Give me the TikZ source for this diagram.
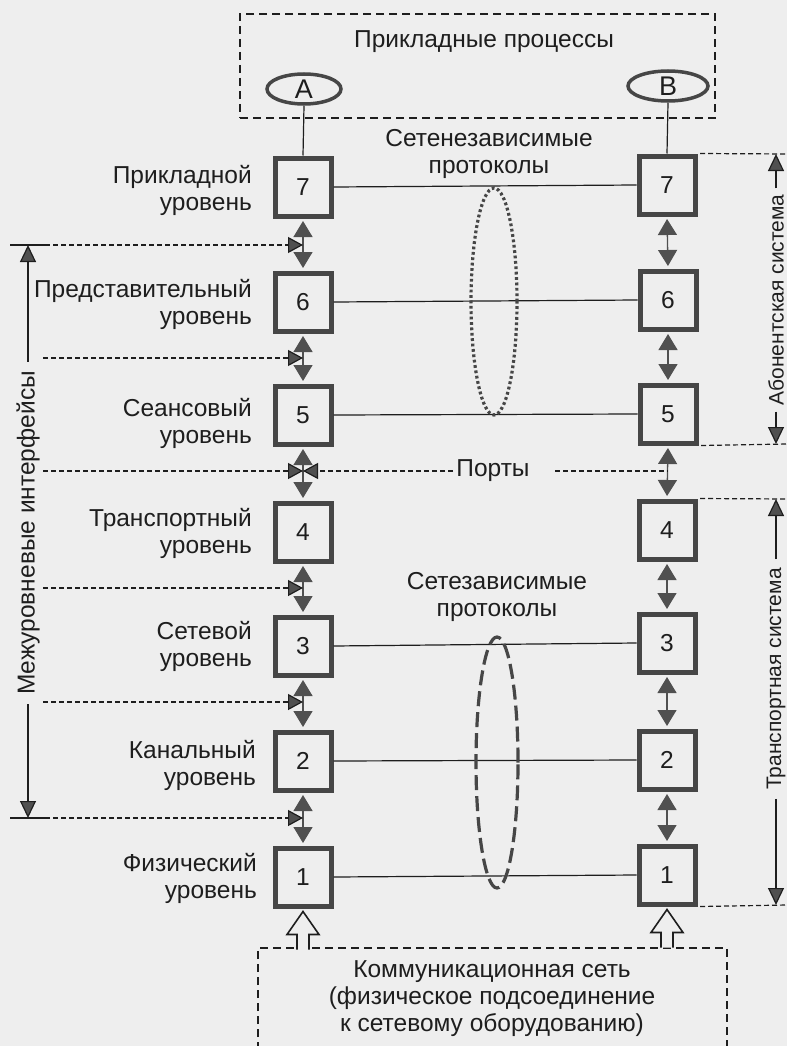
\documentclass[tikz,border=0pt]{standalone}
\usepackage{fontspec}
\setmainfont{Liberation Sans}
\usetikzlibrary{arrows.meta,shapes.geometric,calc}
\definecolor{bg}{RGB}{238,238,238}
\definecolor{ink}{RGB}{30,30,30}
\definecolor{boxc}{RGB}{70,70,70}
\definecolor{tipc}{RGB}{80,80,80}
\newcommand\fsz{\fontsize{24.5}{27}\selectfont}
\newcommand\fsp{\fontsize{27}{30}\selectfont}
\newcommand\fsr{\fontsize{21}{25}\selectfont}
\begin{document}
\begin{tikzpicture}[x=1pt,y=-1pt,
  lvl/.style={draw=boxc, line width=5pt, minimum width=56pt, minimum height=58pt, inner sep=0pt, font=\fsz, text=ink},
  lab/.style={align=right, anchor=east, font=\fsz, text=ink, inner sep=0pt},
  txt/.style={align=center, font=\fsz, text=ink, inner sep=0pt},
  proc/.style={ellipse, draw=boxc, line width=3.5pt, inner sep=0pt, font=\fsp, text=ink},
  thinln/.style={draw=ink, line width=1.2pt},
  dbl/.style={draw=tipc, line width=1.3pt, arrows={Triangle[width=19pt,length=16pt]-Triangle[width=19pt,length=16pt]}, shorten <=2.5pt, shorten >=2.5pt},
  iface/.style={draw=ink, line width=1.2pt, dash pattern=on 5pt off 3pt},
  ifacetip/.style={iface, arrows={-Triangle[width=16pt,length=15pt,fill=tipc]}},
  sidetip/.style={draw=ink, line width=1.2pt, arrows={-Triangle[width=16pt,length=17pt,fill=tipc]}},
  dboxst/.style={draw=ink, line width=1.8pt, dash pattern=on 8pt off 5pt},
  hollow/.style={draw=ink, line width=1.6pt, fill=bg, line join=miter}
]
\fill[bg] (0,0) rectangle (787,1046);
\useasboundingbox (0,0) rectangle (787,1046);

% application processes box
\node[dboxst, minimum width=475pt, minimum height=104pt, inner sep=0pt] (apbox) at (477.5,66) {};
\node[txt] (aptxt) at (484,42) {Прикладные процессы};
\node[proc, minimum width=74pt, minimum height=30pt] (A) at (304,89) {A};
\node[proc, minimum width=80pt, minimum height=30pt] (B) at (668,86) {B};

% left stack
\node[lvl] (L7) at (303,187) {7};
\node[lvl] (L6) at (303,302) {6};
\node[lvl] (L5) at (303,415) {5};
\node[lvl] (L4) at (303,532) {4};
\node[lvl] (L3) at (303,646) {3};
\node[lvl] (L2) at (303,761) {2};
\node[lvl] (L1) at (303,877) {1};
% right stack
\node[lvl] (R7) at (667,185) {7};
\node[lvl] (R6) at (668,300) {6};
\node[lvl] (R5) at (668,414) {5};
\node[lvl] (R4) at (667,530) {4};
\node[lvl] (R3) at (667,643) {3};
\node[lvl] (R2) at (667,760) {2};
\node[lvl] (R1) at (667,875) {1};

% labels
\node[lab] (t7) at (252,190) {Прикладной\\уровень};
\node[lab] (t6) at (252,304) {Представительный\\уровень};
\node[lab] (t5) at (252,423) {Сеансовый\\уровень};
\node[lab] (t4) at (252,533) {Транспортный\\уровень};
\node[lab] (t3) at (252,646) {Сетевой\\уровень};
\node[lab] (t2) at (256,765) {Канальный\\уровень};
\node[lab] (t1) at (257,878) {Физический\\уровень};

% process links
\draw[thinln] (A.south) -- (L7.north);
\draw[thinln] (B.south) -- (R7.north);

% peer lines
\draw[thinln] (L7.east) -- (R7.west);
\draw[thinln] (L6.east) -- (R6.west);
\draw[thinln] (L5.east) -- (R5.west);
\draw[thinln] (L3.east) -- (R3.west);
\draw[thinln] (L2.east) -- (R2.west);
\draw[thinln] (L1.east) -- (R1.west);

% vertical double arrows
\foreach \a/\b in {7/6,6/5,5/4,4/3,3/2,2/1}{
  \draw[dbl] (L\a.south) -- (L\b.north);
  \draw[dbl] (R\a.south) -- (R\b.north);
}

% protocol ellipses
\node[ellipse, draw=boxc, line width=3.2pt, dash pattern=on 2.8pt off 2.6pt, minimum width=46pt, minimum height=227pt] (indep) at (494,301.5) {};
\node[ellipse, draw=boxc, line width=3.2pt, dash pattern=on 15pt off 6pt, minimum width=42pt, minimum height=251pt] (dep) at (497,762.5) {};
\node[txt] (indeptxt) at (489,154) {Сетенезависимые\\протоколы};
\node[txt] (deptxt) at (497,597) {Сетезависимые\\протоколы};

% interlevel interfaces
\coordinate (i1) at (45,245);
\coordinate (i2) at (43,358);
\coordinate (i3) at (43,471);
\coordinate (i4) at (43,588);
\coordinate (i5) at (43,702);
\coordinate (i6) at (45,818);
\draw[ifacetip] (i1) -- (L7.south |- i1);
\draw[ifacetip] (i2) -- (L6.south |- i2);
\draw[ifacetip] (i3) -- (L5.south |- i3);
\draw[ifacetip] (i4) -- (L4.south |- i4);
\draw[ifacetip] (i5) -- (L3.south |- i5);
\draw[ifacetip] (i6) -- (L2.south |- i6);
\coordinate (i1s) at (10,245);
\coordinate (i6s) at (10,818);
\draw[thinln] (i1s) -- (i1);
\draw[thinln] (i6s) -- (i6);

% ports
\node[txt] (ports) at (493,471) {Порты};
\coordinate (pl) at (453,471);
\coordinate (pr) at (555,471);
\draw[ifacetip] (pl) -- (L5.south |- i3);
\draw[iface] (pr) -- (R5.south |- pr);

% left vertical label
\node[font=\fsz, text=ink, rotate=90, inner sep=9pt] (mi) at (28,533) {Межуровневые интерфейсы};
\coordinate (mitop) at (28,245);
\coordinate (mibot) at (28,818);
\draw[sidetip] (mi.east) -- (mitop);
\draw[sidetip] (mi.west) -- (mibot);

% right vertical labels
\coordinate (ab1) at (787,154);
\coordinate (ab2) at (787,444);
\coordinate (tr1) at (787,499);
\coordinate (tr2) at (787,905);
\draw[iface] ($(R7.north east)+(2.5,0)$) -- (ab1);
\draw[iface] ($(R5.south east)+(2.5,0)$) -- (ab2);
\draw[iface] ($(R4.north east)+(2.5,0)$) -- (tr1);
\draw[iface] ($(R1.south east)+(2.5,0)$) -- (tr2);
\node[font=\fsr, text=ink, rotate=90, inner sep=6pt] (abon) at (776,300) {Абонентская система};
\node[font=\fsr, text=ink, rotate=90, inner sep=9pt] (trans) at (776,679) {Транспортная система};
\draw[sidetip] (abon.east) -- (776,154);
\draw[sidetip] (abon.west) -- (776,444);
\draw[sidetip] (trans.east) -- (776,499);
\draw[sidetip] (trans.west) -- (776,905);

% communication network box
\coordinate (cnTL) at (258,948);
\coordinate (cnTR) at (727,948);
\draw[dboxst] (258,1050) -- (cnTL) -- (cnTR) -- (727,1050);
\node[txt] (cntxt) at (492,999) {Коммуникационная сеть\\(физическое подсоединение\\к сетевому оборудованию)};

% hollow arrows
\foreach \n in {L1,R1}{
  \draw[hollow] ($(\n.south)+(-6,41)$) -- ($(\n.south)+(-6,26)$) -- ($(\n.south)+(-16,26)$) -- ($(\n.south)+(0,3)$) -- ($(\n.south)+(16,26)$) -- ($(\n.south)+(6,26)$) -- ($(\n.south)+(6,41)$);
}
\end{tikzpicture}
\end{document}
